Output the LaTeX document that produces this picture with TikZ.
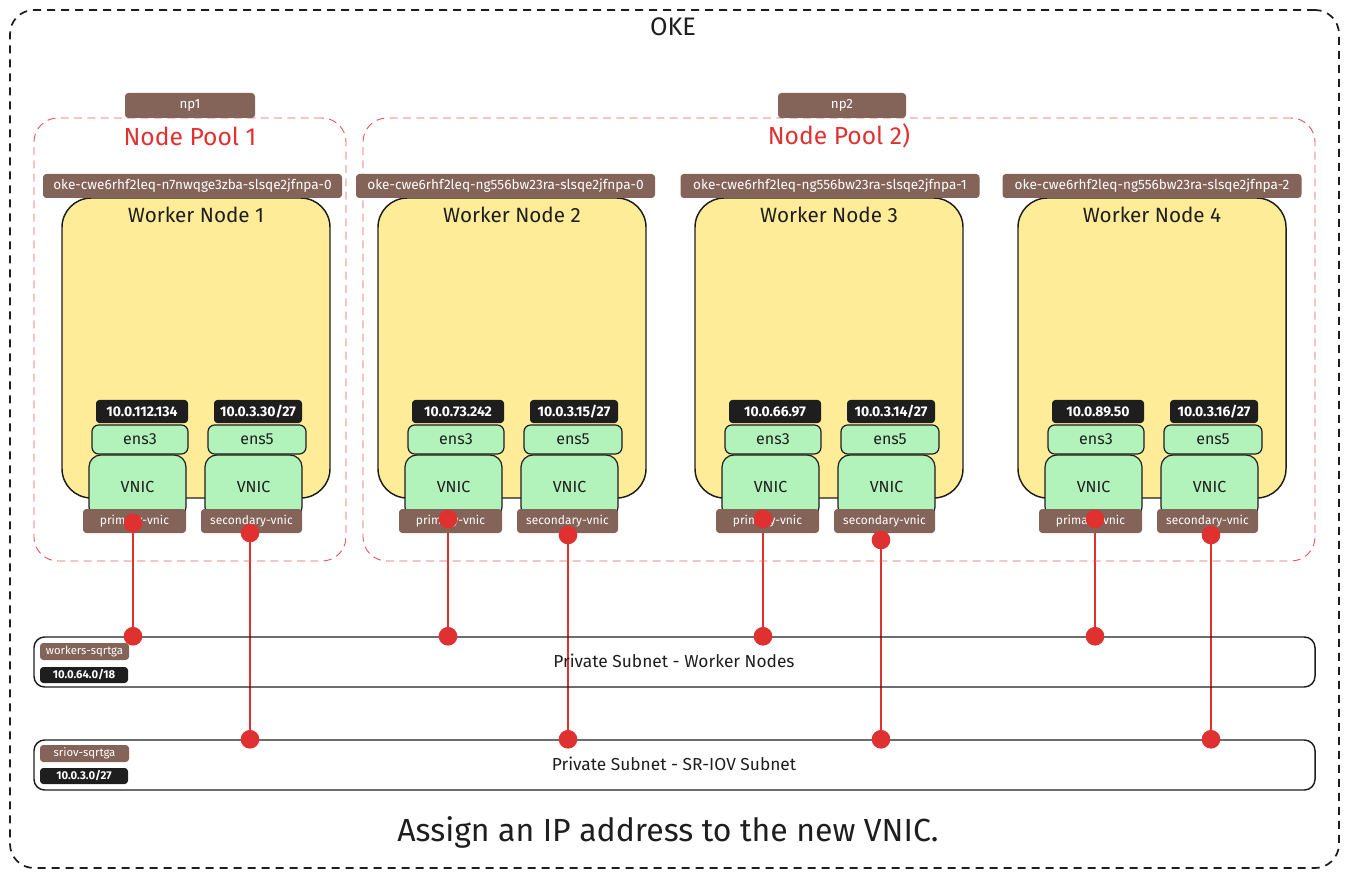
\documentclass[tikz,border=0pt]{standalone}
\usepackage{fontspec}
\setmainfont{Fira Sans}
\usetikzlibrary{backgrounds}
\definecolor{brn}{HTML}{846358}
\definecolor{ylw}{HTML}{FFEC99}
\definecolor{grn}{HTML}{B2F2BB}
\definecolor{blk}{HTML}{1E1E1E}
\definecolor{rd}{HTML}{E03131}
\newcommand\fsz[1]{\fontsize{#1}{#1}\selectfont}
\tikzset{
  px/.style 2 args={minimum width=#1*0.75pt, minimum height=#2*0.75pt, inner sep=0pt},
  tagbox/.style={fill=brn, rounded corners=2.5pt, text=white},
  ipbox/.style={fill=blk, rounded corners=2.5pt, text=white, font=\fsz{10.5}\bfseries},
  ensbox/.style={fill=grn, draw=blk, line width=0.9pt, rounded corners=5pt, text=blk, font=\fsz{12}},
  vnicbox/.style={fill=grn, draw=blk, line width=0.9pt, rounded corners=9pt, text=blk, font=\fsz{12}},
  wbox/.style={fill=ylw, draw=blk, line width=1.1pt, rounded corners=22pt},
  pool/.style={draw=rd!80, dash pattern=on 6pt off 4pt, line width=0.7pt, rounded corners=18pt},
  subnet/.style={draw=blk, line width=1.1pt, rounded corners=8pt},
  reddot/.style={circle, fill=rd, inner sep=0pt, minimum size=14pt},
  wire/.style={draw=rd, line width=1.5pt},
}
% #1 idx, #2 x0, #3 host cx, #4 host w, #5 host, #6 ip1, #7 ip2, #8 pdot, #9 sdot
\newcommand\wnode[9]{%
  \node[wbox, px={268}{300}] (wn#1) at ({#2+134},348) {};
  \node[font=\fsz{15.5}, text=blk] (wt#1) at ({#2+134},215) {Worker Node #1};
  \node[tagbox, px={#4}{24}, font=\fsz{10.2}] (h#1) at (#3,186) {#5};
  \node[vnicbox, px={97}{64}] (va#1) at ({#2+75.5},487) {VNIC};
  \node[vnicbox, px={97}{64}] (vb#1) at ({#2+191.5},487) {VNIC};
  \node[ensbox, px={96}{29}] (ea#1) at ({#2+78},439.5) {ens3};
  \node[ensbox, px={98}{29}] (eb#1) at ({#2+195},439.5) {ens5};
  \node[ipbox, px={92}{23}] (ia#1) at ({#2+80},411.5) {#6};
  \node[ipbox, px={88}{23}] (ib#1) at ({#2+196},411.5) {#7};
  \node[tagbox, px={103}{24}, font=\fsz{9}] (la#1) at ({#2+72.5},521) {primary-vnic};
  \node[tagbox, px={101}{24}, font=\fsz{9}] (lb#1) at ({#2+189.5},521) {secondary-vnic};
  \node[reddot] (pd#1) at #8 {};
  \node[reddot] (sd#1) at #9 {};
  \node[reddot] (pw#1) at (pd#1 |- wsub.north) {};
  \node[reddot] (ss#1) at (sd#1 |- ssub.north) {};
  \begin{pgfonlayer}{background}
    \draw[wire] (pd#1.center) -- (pw#1.center);
    \draw[wire] (sd#1.center) -- (ss#1.center);
  \end{pgfonlayer}
}
\begin{document}
\begin{tikzpicture}[x=0.75pt, y=-0.75pt]
\useasboundingbox (0,0) rectangle (1349,880);
% outer
\node[draw=blk, dash pattern=on 6pt off 4.5pt, line width=1.3pt, rounded corners=18pt, px={1329}{858}] (oke) at (674.5,439) {};
\node[font=\fsz{19}, text=blk] (oket) at (673,27) {OKE};
% pools
\node[pool, px={312}{443}] (pool1) at (190,339.5) {};
\node[pool, px={952}{443}] (pool2) at (839,339.5) {};
\node[tagbox, px={130}{25}, font=\fsz{10}] (np1) at (190,105.5) {np1};
\node[tagbox, px={128}{25}, font=\fsz{10}] (np2) at (842,105.5) {np2};
\node[font=\fsz{18.5}, text=rd] (np1t) at (190,136) {Node Pool 1};
\node[font=\fsz{18.5}, text=rd] (np2t) at (839,136) {Node Pool 2)};
% subnets
\node[subnet, px={1281}{50}] (wsub) at (674.5,662) {};
\node[subnet, px={1281}{50}] (ssub) at (674.5,765) {};
\node[tagbox, px={89}{17}, font=\fsz{8.5}] (wsubn) at (84.5,651.5) {workers-sqrtga};
\node[ipbox, px={88}{16}, font=\fsz{8.5}\bfseries] (wsubip) at (84,675) {10.0.64.0/18};
\node[tagbox, px={89}{17}, font=\fsz{8.5}] (ssubn) at (84.5,753.5) {sriov-sqrtga};
\node[ipbox, px={88}{16}, font=\fsz{8.5}\bfseries] (ssubip) at (84,776) {10.0.3.0/27};
\node[font=\fsz{13}, text=blk] (wsubt) at (674,661) {Private Subnet - Worker Nodes};
\node[font=\fsz{13}, text=blk] (ssubt) at (674,764) {Private Subnet - SR-IOV Subnet};
% worker nodes
\wnode{1}{62}{192.5}{299}{oke-cwe6rhf2leq-n7nwqge3zba-slsqe2jfnpa-0}{10.0.112.134}{10.0.3.30/27}{(133,523)}{(250,533)}
\wnode{2}{378}{505.5}{299}{oke-cwe6rhf2leq-ng556bw23ra-slsqe2jfnpa-0}{10.0.73.242}{10.0.3.15/27}{(448,519)}{(568,535)}
\wnode{3}{695}{830}{299}{oke-cwe6rhf2leq-ng556bw23ra-slsqe2jfnpa-1}{10.0.66.97}{10.0.3.14/27}{(763,519)}{(881,540)}
\wnode{4}{1018}{1152}{299}{oke-cwe6rhf2leq-ng556bw23ra-slsqe2jfnpa-2}{10.0.89.50}{10.0.3.16/27}{(1095,519)}{(1211,535)}
% caption
\node[font=\fsz{24}, text=blk] (cap) at (668,832) {Assign an IP address to the new VNIC.};
\end{tikzpicture}
\end{document}
